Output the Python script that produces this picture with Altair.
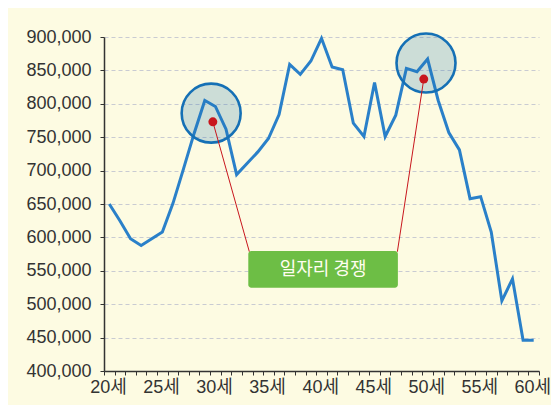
import altair as alt
import pandas as pd

# ---- data ----
ages = list(range(20, 61))
income = [650000, 625000, 598000, 588000, 598000, 608000, 651000, 703000, 756000,
          805000, 796000, 762000, 694000, 711000, 728000, 748000, 784000, 859000,
          844000, 864000, 898000, 855000, 851000, 771000, 751000, 832000, 751000,
          783000, 853000, 848000, 867000, 805000, 757000, 731000, 658000, 661000,
          608000, 505000, 538000, 446000, 446000]

# annotation positions (in data units)
circle_age = [29.6, 49.85]
circle_val = [786000, 861000]
dot_age = [29.76, 49.64]
dot_val = [773000, 837000]
link_age_end = [33.2, 47.15]
link_val_end = [578500, 578500]
box_age = [33.1, 47.2]
box_val = [579500, 524500]
label_text = "일자리 경쟁"
label_age = 40.15
label_val = 551500

y_ticks = list(range(400000, 900001, 50000))
x_ticks = [19.5 + i for i in range(42)]

df = pd.DataFrame({"age": ages, "income": income})
circles = pd.DataFrame({"age": circle_age, "income": circle_val})
dots = pd.DataFrame({"age": dot_age, "income": dot_val,
                     "age2": link_age_end, "income2": link_val_end})
box = pd.DataFrame({"a1": [box_age[0]], "a2": [box_age[1]],
                    "v1": [box_val[0]], "v2": [box_val[1]],
                    "age": [label_age], "income": [label_val], "t": [label_text]})

FONT = "Liberation Sans, Noto Sans CJK KR"
xscale = alt.Scale(domain=[19.5, 60.5], nice=False, zero=False)
yscale = alt.Scale(domain=[400000, 900000], nice=False, zero=False)

x_axis = alt.Axis(values=x_ticks, title=None, grid=False,
                  labelExpr="(datum.value + 0.5) % 5 == 0 ? (datum.value + 0.5) + '세' : ''",
                  labelOffset=4, labelFlush=False, labelOverlap=False, labelBound=False,
                  tickSize=4, tickColor="#333333", domainColor="#333333", domainWidth=1.5,
                  labelFont=FONT, labelFontSize=18, labelColor="#333333", labelPadding=3)
y_axis = alt.Axis(values=y_ticks, format=",d", title=None, grid=True,
                  labelOverlap=False, labelFlush=False,
                  gridDash=[4, 3], gridColor="#C9CBD2", gridWidth=1,
                  tickSize=4, tickColor="#333333", domainColor="#333333", domainWidth=1.5,
                  labelFont=FONT, labelFontSize=18, labelColor="#333333", labelPadding=9)

X = alt.X("age:Q", scale=xscale, axis=x_axis)
Y = alt.Y("income:Q", scale=yscale, axis=y_axis)

line = alt.Chart(df).mark_line(color="#2A80C9", strokeWidth=3).encode(x=X, y=Y)

circ = alt.Chart(circles).mark_point(
    shape="circle", size=3480, filled=True, fill="#1E73B0", fillOpacity=0.22,
    stroke="#1570B5", strokeWidth=2.6, strokeOpacity=1
).encode(x=X, y=Y)

links = alt.Chart(dots).mark_rule(color="#C8161D", strokeWidth=1).encode(
    x=X, y=Y, x2="age2:Q", y2="income2:Q")

redots = alt.Chart(dots).mark_circle(color="#C8161D", size=80, opacity=1).encode(x=X, y=Y)

rect = alt.Chart(box).mark_rect(color="#6DBE45", cornerRadius=3).encode(
    x=alt.X("a1:Q", scale=xscale, axis=x_axis), x2="a2:Q",
    y=alt.Y("v1:Q", scale=yscale, axis=y_axis), y2="v2:Q")

label = alt.Chart(box).mark_text(font="Noto Sans CJK KR", fontSize=18, color="#FFFDF0",
                                 align="center", baseline="middle").encode(
    x=X, y=Y, text="t:N")

chart = alt.layer(line, circ, links, redots, rect, label).properties(
    width=435, height=334,
    autosize=alt.AutoSizeParams(type="none"),
    padding={"left": 96, "top": 29, "right": 12, "bottom": 34},
    background="#FDFBE2",
).configure_view(stroke=None)

chart.save("out.html", embed_options={"renderer": "svg", "actions": False})
